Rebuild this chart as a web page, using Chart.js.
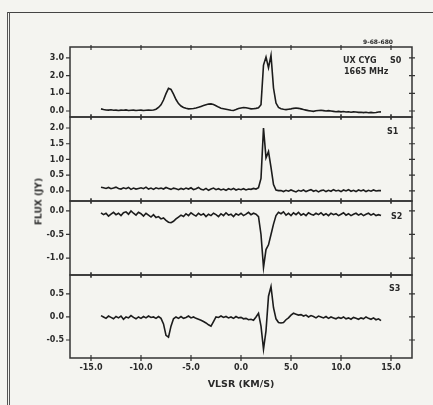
<!DOCTYPE html>
<html>
<head>
<meta charset="utf-8">
<script src="https://cdn.jsdelivr.net/npm/chart.js@4"></script>
<style>
  body { margin: 0; background: #f4f4f0; }
  #page { position: relative; width: 433px; height: 405px; overflow: hidden; font-family: "DejaVu Sans", sans-serif; color: #2a2a2a; }
  .edge-top { position: absolute; left: 7px; top: 12px; width: 426px; border-top: 1.5px solid #444; }
  .edge-left { position: absolute; left: 7px; top: 12px; width: 1px; height: 393px; border-left: 1px solid #555; border-right: 1px solid #555; }
  canvas { position: absolute; left: 0; }
  .lbl { position: absolute; font-size: 8px; line-height: 1; white-space: nowrap; font-weight: bold; will-change: transform; }
</style>
</head>
<body>
<div id="page">
  <div class="edge-top"></div>
  <div class="edge-left"></div>
  <canvas id="c0" width="433" height="74" style="top:45px"></canvas>
  <canvas id="c1" width="433" height="88" style="top:115px"></canvas>
  <canvas id="c2" width="433" height="78" style="top:199px"></canvas>
  <canvas id="c3" width="433" height="123" style="top:273px"></canvas>

  <div class="lbl" style="left:363px;top:39px;font-size:6px">9-68-680</div>
  <div class="lbl" style="left:343px;top:57px">UX CYG</div>
  <div class="lbl" style="left:390px;top:57px">S0</div>
  <div class="lbl" style="left:344px;top:68px">1665 MHz</div>
  <div class="lbl" style="left:387px;top:128px">S1</div>
  <div class="lbl" style="left:391px;top:213px">S2</div>
  <div class="lbl" style="left:389px;top:285px">S3</div>
  <div class="lbl" style="left:12px;top:197px;width:54px;font-size:9px;text-align:center;transform:rotate(-90deg)">FLUX (JY)</div>
</div>

<script>
// channel velocities (km/s)
const velocity = [
  -14, -13.75, -13.5, -13.25, -13, -12.75, -12.5, -12.25,
  -12, -11.75, -11.5, -11.25, -11, -10.75, -10.5, -10.25,
  -10, -9.75, -9.5, -9.25, -9, -8.75, -8.5, -8.25,
  -8, -7.75, -7.5, -7.25, -7, -6.75, -6.5, -6.25,
  -6, -5.75, -5.5, -5.25, -5, -4.75, -4.5, -4.25,
  -4, -3.75, -3.5, -3.25, -3, -2.75, -2.5, -2.25,
  -2, -1.75, -1.5, -1.25, -1, -0.75, -0.5, -0.25,
  0, 0.25, 0.5, 0.75, 1, 1.25, 1.5, 1.75,
  2, 2.25, 2.5, 2.75, 3, 3.25, 3.5, 3.75,
  4, 4.25, 4.5, 4.75, 5, 5.25, 5.5, 5.75,
  6, 6.25, 6.5, 6.75, 7, 7.25, 7.5, 7.75,
  8, 8.25, 8.5, 8.75, 9, 9.25, 9.5, 9.75,
  10, 10.25, 10.5, 10.75, 11, 11.25, 11.5, 11.75,
  12, 12.25, 12.5, 12.75, 13, 13.25, 13.5, 13.75,
  14
];

// Stokes S0 (Jy)
const stokesS0 = [
  0.12, 0.08, 0.06, 0.05, 0.07, 0.04, 0.05, 0.03,
  0.05, 0.04, 0.06, 0.03, 0.04, 0.05, 0.03, 0.04,
  0.05, 0.03, 0.04, 0.05, 0.04, 0.06, 0.1, 0.2,
  0.35, 0.62, 0.98, 1.28, 1.22, 0.95, 0.65, 0.42,
  0.28, 0.2, 0.15, 0.12, 0.13, 0.14, 0.17, 0.21,
  0.26, 0.31, 0.35, 0.39, 0.4, 0.37, 0.3, 0.22,
  0.16, 0.13, 0.1, 0.07, 0.04, 0.03, 0.08, 0.14,
  0.17, 0.2, 0.18, 0.15, 0.12, 0.13, 0.15, 0.18,
  0.35, 2.6, 3.05, 2.45, 3.15, 1.3, 0.45, 0.2,
  0.13, 0.1, 0.08, 0.1, 0.12, 0.15, 0.17, 0.15,
  0.12, 0.08, 0.05, 0.02, 0.0, -0.02, 0.01, 0.03,
  0.04, 0.02, 0.0, 0.02, 0.0, -0.02, -0.04, -0.02,
  -0.05, -0.03, -0.06, -0.04, -0.07, -0.05, -0.06, -0.08,
  -0.07, -0.09, -0.07, -0.1, -0.08, -0.1, -0.09, -0.06,
  -0.05
];

// Stokes S1 (Jy)
const stokesS1 = [
  0.12, 0.1, 0.08, 0.11, 0.07, 0.09, 0.12, 0.08,
  0.06, 0.1, 0.07, 0.11, 0.05, 0.09, 0.06, 0.08,
  0.1, 0.07, 0.12, 0.06, 0.09, 0.05, 0.1, 0.07,
  0.09, 0.06, 0.11, 0.08, 0.05, 0.09, 0.07, 0.04,
  0.08, 0.05, 0.09, 0.06, 0.1, 0.04, 0.07, 0.11,
  0.05, 0.03, 0.08, 0.02, 0.06, 0.09, 0.04, 0.07,
  0.03, 0.06, 0.02, 0.07, 0.04, 0.08, 0.03, 0.06,
  0.04, 0.07, 0.03, 0.06, 0.05, 0.08, 0.06, 0.1,
  0.4, 2.0, 1.05, 1.25, 0.75, 0.2, 0.03, 0.01,
  0.01, -0.02, 0.02, -0.01, 0.03, 0.0, -0.03, 0.02,
  -0.01, 0.03, -0.02, 0.01, 0.04, -0.01, 0.02, -0.03,
  0.01, 0.03, -0.02, 0.02, -0.01, 0.04, 0.0, 0.02,
  -0.02, 0.03, 0.0, 0.04, -0.01, 0.02, -0.02, 0.03,
  0.0, 0.03, -0.02, 0.02, -0.01, 0.03, 0.0, 0.01,
  0.01
];

// Stokes S2 (Jy)
const stokesS2 = [
  -0.04, -0.08, -0.05, -0.11, -0.07, -0.03, -0.08, -0.05,
  -0.1, -0.04, -0.02, -0.07, 0.0, -0.05, -0.09, -0.03,
  -0.06, -0.11, -0.05, -0.09, -0.13, -0.08, -0.14, -0.12,
  -0.17, -0.15, -0.2, -0.24, -0.25, -0.22, -0.17, -0.13,
  -0.09, -0.12, -0.06, -0.1, -0.04, -0.08, -0.11, -0.05,
  -0.09, -0.06, -0.12, -0.07, -0.1, -0.05, -0.08, -0.12,
  -0.06, -0.1, -0.04, -0.09, -0.07, -0.12, -0.06, -0.09,
  -0.05, -0.1, -0.07, -0.03, -0.08, -0.05, -0.07, -0.12,
  -0.5, -1.2, -0.82, -0.72, -0.5, -0.28, -0.1, -0.03,
  -0.06, -0.02, -0.09, -0.05, -0.1, -0.04, -0.08, -0.03,
  -0.09, -0.06, -0.1, -0.04, -0.07, -0.09, -0.05, -0.08,
  -0.04, -0.09, -0.06, -0.1, -0.05, -0.08, -0.06, -0.1,
  -0.07, -0.04, -0.09, -0.06, -0.1, -0.07, -0.05, -0.09,
  -0.06, -0.1, -0.07, -0.05, -0.09, -0.06, -0.1, -0.08,
  -0.1
];

// Stokes S3 (Jy)
const stokesS3 = [
  0.03, 0.0, -0.03, 0.02, -0.01, -0.04, 0.01, -0.02,
  0.02, -0.05, 0.0, -0.02, 0.03, -0.01, -0.04, 0.0,
  -0.03, 0.01, -0.02, 0.02, -0.01, 0.0, -0.03, 0.01,
  -0.03, -0.15, -0.4, -0.44, -0.2, -0.04, 0.0, -0.03,
  0.01, -0.03, -0.01, 0.02, -0.02, 0.0, -0.03, -0.05,
  -0.07, -0.1, -0.13, -0.17, -0.2, -0.1, 0.0, -0.01,
  0.02, -0.01, 0.01, -0.02, 0.0, -0.03, 0.01, -0.02,
  -0.01, -0.04, -0.03, -0.06, -0.05, -0.07, 0.0, 0.08,
  -0.2, -0.7, -0.3, 0.45, 0.66, 0.2, -0.04, -0.12,
  -0.13, -0.12, -0.06, -0.02, 0.04, 0.08, 0.06, 0.04,
  0.05, 0.02, 0.04, 0.0, 0.03, 0.01, -0.02, 0.02,
  0.0, -0.02, 0.01, -0.03, 0.0, -0.02, -0.04, -0.01,
  -0.03, 0.0, -0.04, -0.02, -0.05, -0.01, -0.03, -0.05,
  -0.02, -0.04, 0.0, -0.03, -0.05, -0.02, -0.06, -0.04,
  -0.08
];

const velTicks = [-15, -10, -5, 0, 5, 10, 15];
const ticksS0 = [0, 1, 2, 3];
const ticksS1 = [0, 0.5, 1, 1.5, 2];
const ticksS2 = [-1, -0.5, 0];
const ticksS3 = [-0.5, 0, 0.5];

Chart.defaults.font.family = "'DejaVu Sans', sans-serif";
Chart.defaults.font.weight = 'bold';
Chart.defaults.color = '#2a2a2a';

// box round each panel plus the little tick marks
const framePlugin = {
  id: 'frame',
  afterDraw(chart) {
    const { ctx, chartArea: a, scales } = chart;
    ctx.save();
    ctx.strokeStyle = '#333';
    ctx.lineWidth = 1.5;
    ctx.strokeRect(a.left, a.top, a.right - a.left, a.bottom - a.top);
    ctx.lineWidth = 1.2;
    ctx.beginPath();
    velTicks.forEach(v => {
      const px = scales.x.getPixelForValue(v);
      ctx.moveTo(px, a.top - 3); ctx.lineTo(px, a.top + 3);
      ctx.moveTo(px, a.bottom - 3); ctx.lineTo(px, a.bottom + 3);
    });
    scales.y.ticks.forEach(t => {
      const py = scales.y.getPixelForValue(t.value);
      ctx.moveTo(a.left - 4, py); ctx.lineTo(a.left, py);
      ctx.moveTo(a.right - 3, py); ctx.lineTo(a.right + 3, py);
    });
    ctx.stroke();
    ctx.restore();
  }
};

function makePanel(id, values, yMin, yMax, yTicks, showX) {
  return new Chart(document.getElementById(id), {
    type: 'line',
    data: {
      datasets: [{
        data: values.map((f, i) => ({ x: velocity[i], y: f })),
        borderColor: '#1c1c1c',
        borderWidth: 1.6,
        pointRadius: 0,
        tension: 0,
        fill: false
      }]
    },
    options: {
      responsive: false,
      animation: false,
      layout: { padding: { left: 0, right: 21, top: 2, bottom: 2 } },
      plugins: { legend: { display: false }, tooltip: { enabled: false } },
      scales: {
        x: {
          type: 'linear',
          min: -17.1,
          max: 17.1,
          display: showX,
          grid: { display: false, drawTicks: false },
          border: { display: false },
          afterBuildTicks: s => { s.ticks = velTicks.map(v => ({ value: v })); },
          ticks: { padding: 5, font: { size: 8 }, maxRotation: 0, autoSkip: false, callback: v => v.toFixed(1) },
          title: { display: showX, text: 'VLSR (KM/S)', font: { size: 9.5 }, padding: { top: 0, bottom: 4 } },
          afterFit: s => { s.height = showX ? 36 : 0; s.paddingLeft = 0; s.paddingRight = 0; }
        },
        y: {
          min: yMin,
          max: yMax,
          grid: { display: false, drawTicks: false },
          border: { display: false },
          afterBuildTicks: s => { s.ticks = yTicks.map(v => ({ value: v })); },
          ticks: { padding: 6, font: { size: 8 }, callback: v => v.toFixed(1) },
          afterFit: s => { s.width = 70; s.paddingTop = 0; s.paddingBottom = 0; }
        }
      }
    },
    plugins: [framePlugin]
  });
}

makePanel('c0', stokesS0, -0.34, 3.62, ticksS0, false);
makePanel('c1', stokesS1, -0.32, 2.35, ticksS1, false);
makePanel('c2', stokesS2, -1.36, 0.21, ticksS2, false);
makePanel('c3', stokesS3, -0.89, 0.91, ticksS3, true);
</script>
</body>
</html>
